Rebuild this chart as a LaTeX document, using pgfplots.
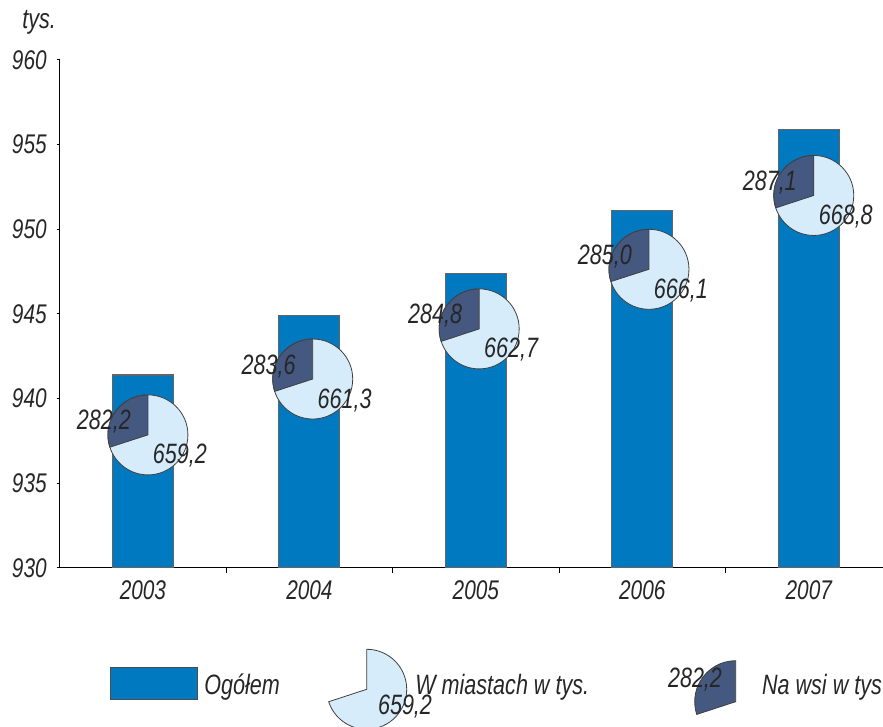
\documentclass[border=0pt]{standalone}
\usepackage{fontspec}
\setmainfont{Liberation Sans}[FakeStretch=0.77]
\usepackage{pgfplots}
\pgfplotsset{compat=1.18}
\definecolor{barblue}{RGB}{0,121,193}
\definecolor{pielight}{RGB}{214,236,250}
\definecolor{piedark}{RGB}{68,88,128}
\definecolor{bargray}{RGB}{100,100,100}
\newcommand{\chartfont}{\itshape\fontsize{14}{16}\selectfont}
\newcommand{\tickfont}{\itshape\fontsize{13.5}{15}\selectfont}
% pie: x, y(center), rural, urban
\newcommand{\pie}[4]{%
  \filldraw[fill=pielight, draw=black!75, line width=0.4pt] (axis cs:#1,#2) circle[radius=20pt];
  \filldraw[fill=piedark, draw=black!75, line width=0.4pt] (axis cs:#1,#2) -- ++(90:20pt)
     arc[start angle=90, delta angle={360*(#3/(#3+#4))}, radius=20pt] -- cycle;
  \node[font=\chartfont, text=black!85, inner sep=0pt] at ([shift={(-22pt,6.5pt)}]axis cs:#1,#2)
     {\pgfmathprintnumber[fixed, fixed zerofill, precision=1, use comma, assume math mode=true]{#3}};
  \node[font=\chartfont, text=black!85, inner sep=0pt] at ([shift={(16pt,-10.5pt)}]axis cs:#1,#2)
     {\pgfmathprintnumber[fixed, fixed zerofill, precision=1, use comma, assume math mode=true]{#4}};
}
\begin{document}
\begin{tikzpicture}
\clip (-29.85pt,-79.5pt) rectangle (411.65pt,284pt);
\path[use as bounding box] (-29.85pt,-79.5pt) rectangle (411.65pt,284pt);
\begin{axis}[
  at={(0,0)}, anchor=south west,
  scale only axis, width=411.65pt, height=254pt,
  xmin=2002.5, xmax=2007.446,
  ymin=930, ymax=960,
  axis lines*=left,
  axis line style={black, line width=0.5pt},
  ytick={930,935,...,960},
  xtick={2003,2004,2005,2006,2007},
  minor xtick={2003.5,2004.5,2005.5,2006.5},
  major x tick style={draw=none},
  tick align=outside,
  major tick length=1.5pt,
  minor tick length=2.5pt,
  tick style={black, line width=0.5pt},
  /pgf/number format/assume math mode=true,
  /pgf/number format/1000 sep={},
  tick label style={font=\tickfont, text=black!85},
  yticklabel style={xshift=-1.5pt},
  xticklabel style={yshift=-1.5pt},
]
\addplot[ybar, bar width=30.5pt, bar shift=0pt, fill=barblue, draw=bargray, line width=0.6pt]
  coordinates {(2003,941.4) (2004,944.9) (2005,947.4) (2006,951.1) (2007,955.9)};
\pie{2003.03}{937.86}{282.2}{659.2}
\pie{2004.02}{941.16}{283.6}{661.3}
\pie{2005.02}{944.12}{284.8}{662.7}
\pie{2006.04}{947.64}{285.0}{666.1}
\pie{2007.03}{952.00}{287.1}{668.8}
\end{axis}
% axis unit label
\node[font=\chartfont, text=black!85, anchor=base west, inner sep=0pt] at (-18.85pt,269.85pt) {tys.};
% legend
\filldraw[fill=barblue, draw=black!70, line width=0.5pt] (25.65pt,-50pt) rectangle (68.65pt,-66pt);
\node[font=\chartfont, text=black!85, anchor=base west, inner sep=0pt] at (72.15pt,-63.5pt) {Ogółem};
\filldraw[fill=pielight, draw=black!75, line width=0.4pt] (153.5pt,-60.65pt) -- ++(198.1:20pt)
   arc[start angle=198.1, end angle=450, radius=20pt] -- cycle;
\node[font=\chartfont, text=black!85, inner sep=0pt] at (172.65pt,-69.5pt) {659,2};
\node[font=\chartfont, text=black!85, anchor=base west, inner sep=0pt] at (177.65pt,-63.5pt) {W miastach w tys.};
\filldraw[fill=piedark, draw=black!75, line width=0.4pt] (338pt,-66.85pt) -- ++(90:20.5pt)
   arc[start angle=90, end angle=198.1, radius=20.5pt] -- cycle;
\node[font=\chartfont, text=black!85, inner sep=0pt] at (317.65pt,-56pt) {282,2};
\node[font=\chartfont, text=black!85, anchor=base west, inner sep=0pt] at (351pt,-63.5pt) {Na wsi w tys};
\end{tikzpicture}
\end{document}
